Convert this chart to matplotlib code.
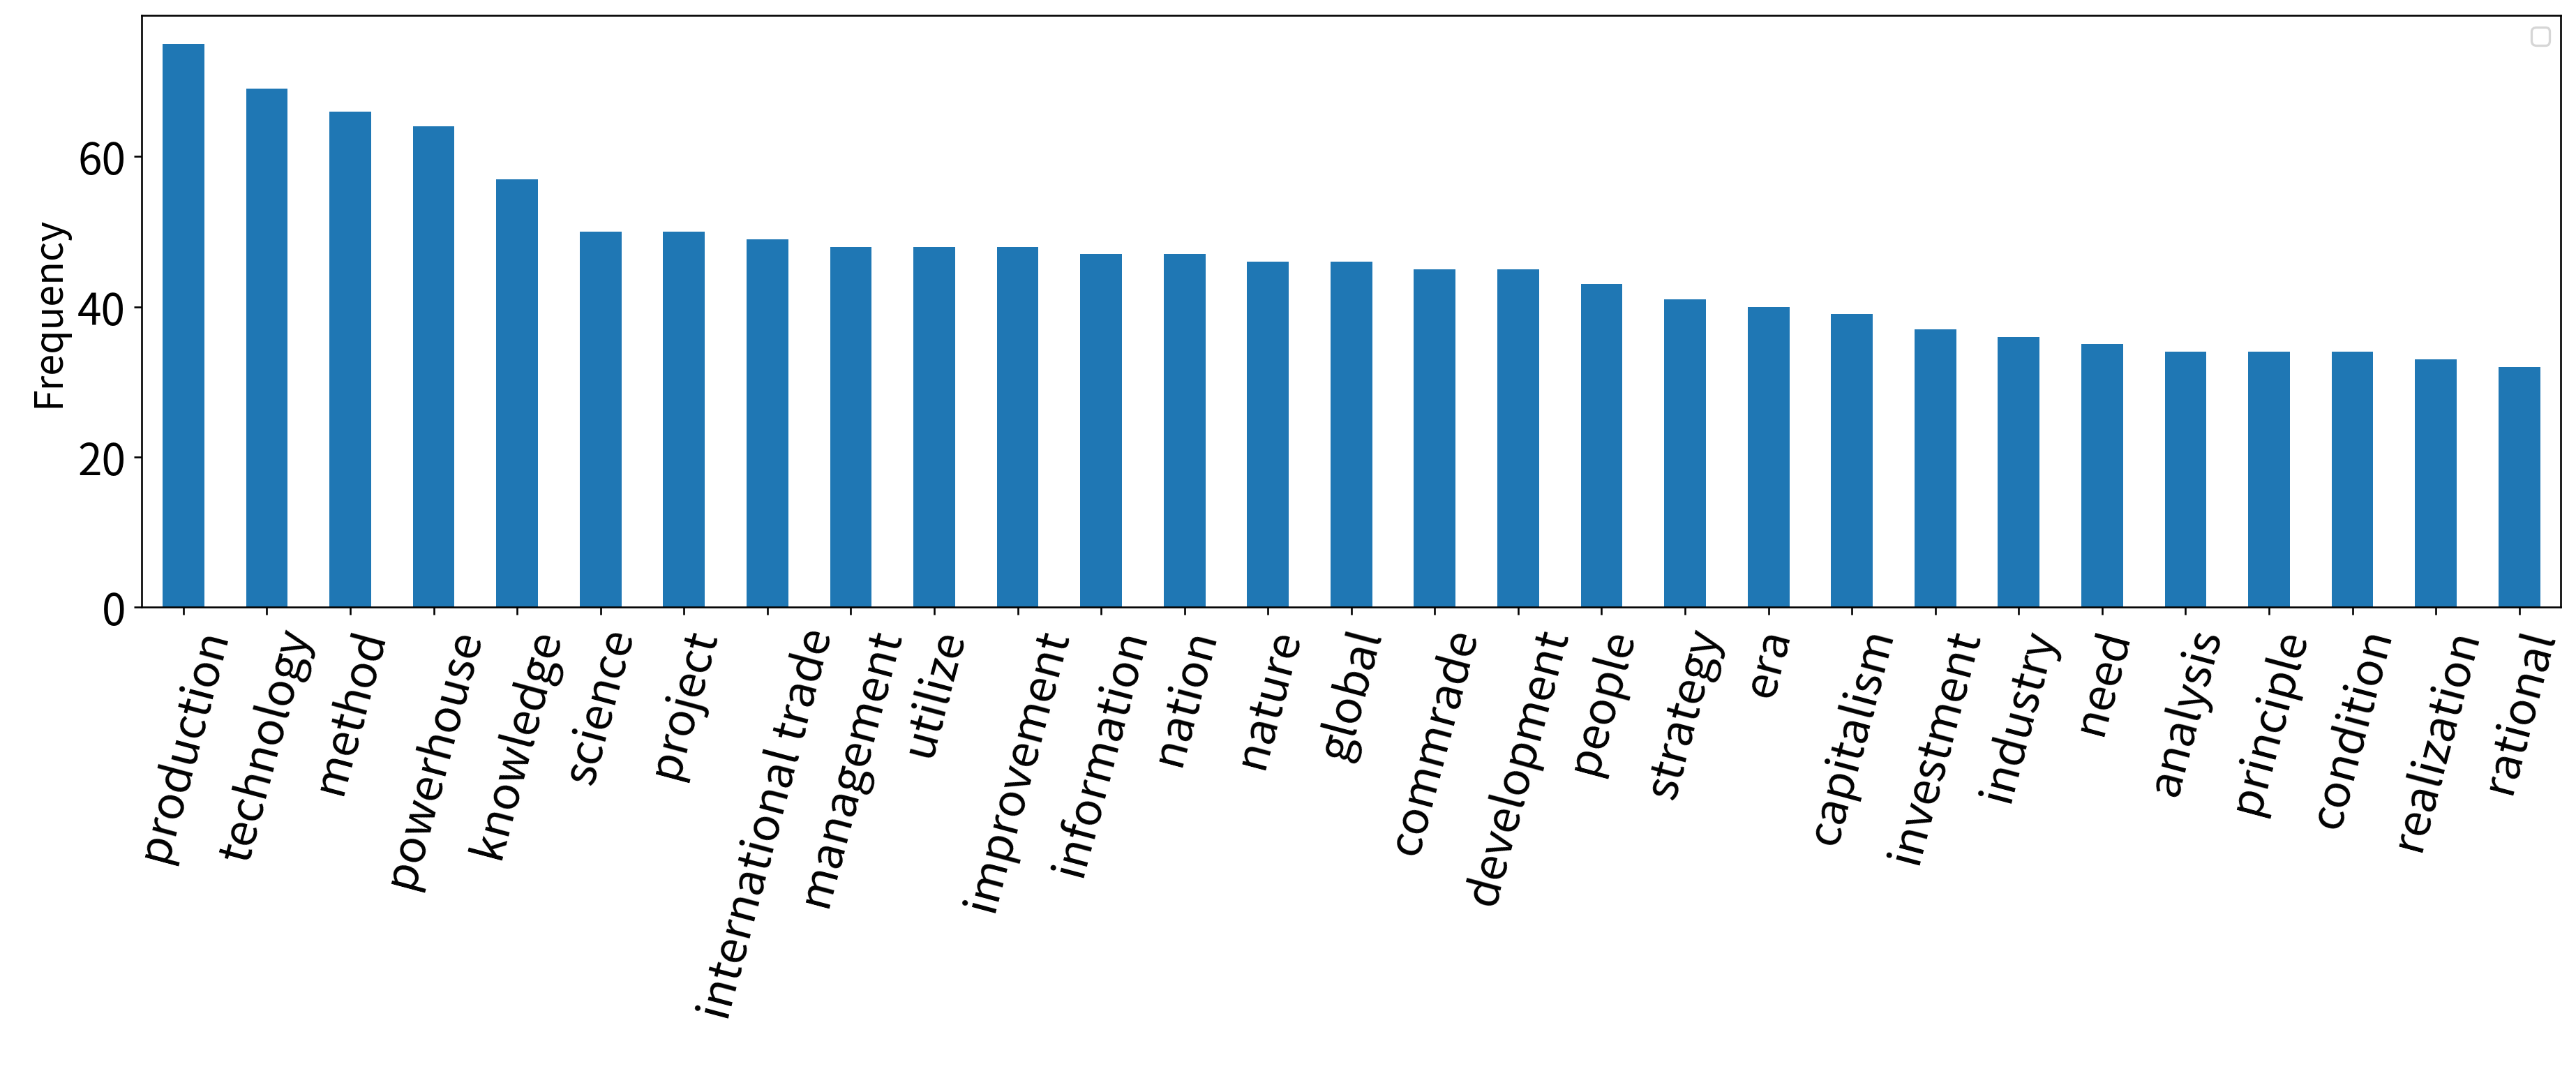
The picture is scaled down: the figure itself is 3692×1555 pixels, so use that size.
import matplotlib
matplotlib.use('Agg')
import matplotlib.pyplot as plt
import pandas as pd

words = ['production', 'technology', 'method', 'powerhouse', 'knowledge',
         'science', 'project', 'international trade', 'management', 'utilize',
         'improvement', 'information', 'nation', 'nature', 'global',
         'commrade', 'development', 'people', 'strategy', 'era', 'capitalism',
         'investment', 'industry', 'need', 'analysis', 'principle',
         'condition', 'realization', 'rational']
counts = [75, 69, 66, 64, 57, 50, 50, 49, 48, 48, 48, 47, 47, 46, 46,
          45, 45, 43, 41, 40, 39, 37, 36, 35, 34, 34, 34, 33, 32]

plt.rcParams['font.family'] = ['Noto Sans CJK KR', 'DejaVu Sans']

freq = pd.Series(counts, index=words)
fig, ax = plt.subplots(figsize=(15.68, 6.607), dpi=235.5)
freq.plot(kind='bar', ax=ax, color='#1f77b4')
ax.set_ylabel('Frequency', fontsize=17)
ax.tick_params(axis='y', labelsize=19)
ax.tick_params(axis='x', labelsize=20, labelrotation=75)
ax.legend(handles=[], loc='upper right')
fig.subplots_adjust(left=0.055, right=0.994, top=0.985, bottom=0.44)
fig.savefig('out.png')
